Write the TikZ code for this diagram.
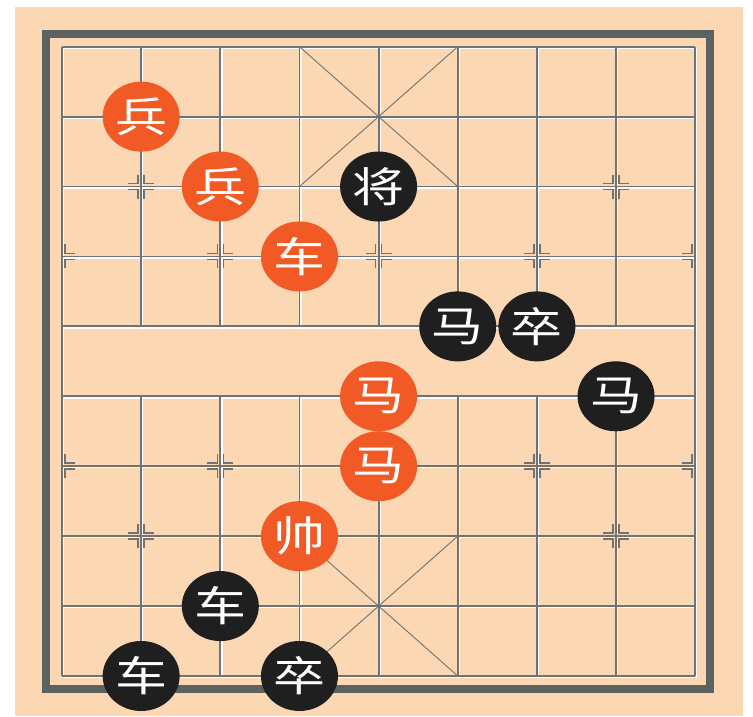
\documentclass[tikz,border=0pt]{standalone}
\usepackage{fontspec}
\usetikzlibrary{shapes.geometric}
\newfontfamily\cjk{Noto Sans CJK SC}

\definecolor{boardbg}{HTML}{FBD7B3}
\definecolor{framegray}{HTML}{5C625F}
\definecolor{linegray}{HTML}{727370}
\definecolor{redpc}{HTML}{F15A24}
\definecolor{blackpc}{HTML}{1F1F1F}

\tikzset{
  gridline/.style={draw=linegray, line width=1.9pt},
  hilite/.style={draw=white, line width=1.4pt},
  palaceline/.style={draw=linegray, line width=0.9pt},
  markline/.style={draw=linegray, line width=1.6pt},
  piece/.style={ellipse, minimum width=77pt, minimum height=70pt, inner sep=0pt,
    text=white, font=\cjk\fontsize{52}{52}\selectfont},
  redpiece/.style={piece, fill=redpc},
  blackpiece/.style={piece, fill=blackpc}
}

% board lines, #1 = style
\newcommand{\gridlines}[1]{%
  \foreach \r in {0,...,9}
    \draw[#1] (0,\r) -- (8,\r);
  \foreach \c in {0,8}
    \draw[#1] (\c,0) -- (\c,9);
  \foreach \c in {1,...,7} {
    \draw[#1] (\c,0) -- (\c,4);
    \draw[#1] (\c,5) -- (\c,9);
  }
}
% position mark: col, row, sides
\newcommand{\posmark}[3]{%
  \foreach \sx in {#3} {
    \foreach \sy in {-1,1} {
      \draw[markline] ([shift={(\sx*3pt,\sy*12pt)}]#1,#2) -- ([shift={(\sx*3pt,\sy*3pt)}]#1,#2)
        -- ([shift={(\sx*13pt,\sy*3pt)}]#1,#2);
    }
  }
}
\newcommand{\pc}[1]{\scalebox{1}[0.8]{#1}}

\begin{document}
\begin{tikzpicture}[x=1pt, y=-1pt]
  \useasboundingbox (0,0) rectangle (753,716);
  \fill[boardbg] (15,7) rectangle (743,716);
  \draw[framegray, line width=8pt] (46,33.5) rectangle (710,689);

  \begin{scope}[shift={(62,46.7)}, x=79.15pt, y=-69.92pt]
    \begin{scope}[shift={(1.5pt,-1.5pt)}]
      \gridlines{hilite}
    \end{scope}
    \gridlines{gridline}

    % palaces
    \draw[palaceline] (3,0) -- (5,2);
    \draw[palaceline] (5,0) -- (3,2);
    \draw[palaceline] (3,7) -- (5,9);
    \draw[palaceline] (5,7) -- (3,9);

    % marks
    \foreach \c/\r in {1/2,7/2,2/3,4/3,6/3,2/6,4/6,6/6,1/7,7/7} {
      \posmark{\c}{\r}{-1,1}
    }
    \posmark{0}{3}{1}
    \posmark{0}{6}{1}
    \posmark{8}{3}{-1}
    \posmark{8}{6}{-1}

    % red
    \node[redpiece] (redbing1) at (1,1) {\pc{兵}};
    \node[redpiece] (redbing2) at (2,2) {\pc{兵}};
    \node[redpiece] (redche) at (3,3) {\pc{车}};
    \node[redpiece] (redma1) at (4,5) {\pc{马}};
    \node[redpiece] (redma2) at (4,6) {\pc{马}};
    \node[redpiece] (redshuai) at (3,7) {\pc{帅}};

    % black
    \node[blackpiece] (blackjiang) at (4,2) {\pc{将}};
    \node[blackpiece] (blackma1) at (5,4) {\pc{马}};
    \node[blackpiece] (blackzu1) at (6,4) {\pc{卒}};
    \node[blackpiece] (blackma2) at (7,5) {\pc{马}};
    \node[blackpiece] (blackche1) at (2,8) {\pc{车}};
    \node[blackpiece] (blackche2) at (1,9) {\pc{车}};
    \node[blackpiece] (blackzu2) at (3,9) {\pc{卒}};
  \end{scope}
\end{tikzpicture}
\end{document}
